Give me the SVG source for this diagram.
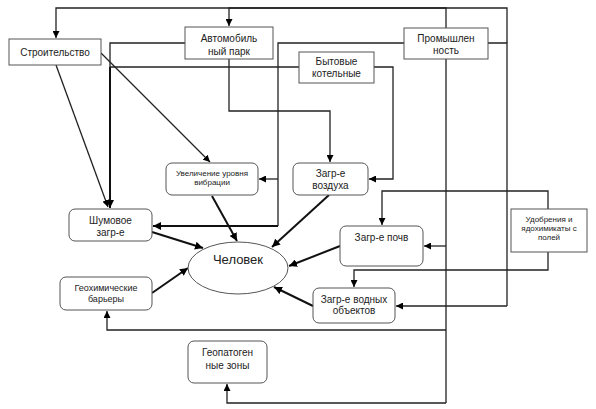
<svg xmlns="http://www.w3.org/2000/svg" width="596" height="409" viewBox="0 0 596 409">
<defs>
<marker id="ah" viewBox="0 0 10 10" refX="10" refY="5" markerWidth="7" markerHeight="7" markerUnits="userSpaceOnUse" orient="auto"><path d="M0,0L10,5L0,10z" fill="#000"/></marker>
<marker id="ahb" viewBox="0 0 10 10" refX="10" refY="5" markerWidth="8" markerHeight="8" markerUnits="userSpaceOnUse" orient="auto"><path d="M0,0L10,5L0,10z" fill="#000"/></marker>
<style>
.b{fill:#fff;stroke:#555;stroke-width:1}
.t{font-family:"Liberation Sans",Arial,sans-serif;font-size:10px;fill:#222;text-anchor:middle}
.s{font-size:8px}
.c{fill:none;stroke:#222;stroke-width:1.3}
.a{marker-end:url(#ah)}
.k{fill:none;stroke:#111;stroke-width:2;marker-end:url(#ahb)}
</style>
</defs>
<rect width="596" height="409" fill="#fff"/>
<g id="connectors">
<polyline class="c a" points="507,43 507,8 56,8 56,38"/>
<polyline class="c a" points="446,403 446,8 229,8 229,26"/>
<polyline class="c" points="488,43 507,43 507,306"/>
<line class="c a" x1="507" y1="306" x2="396" y2="306"/>
<line class="c a" x1="446" y1="246" x2="424" y2="246"/>
<polyline class="c a" points="446,330 107,330 107,311"/>
<polyline class="c a" points="446,403 227,403 227,384"/>
<polyline class="c" points="185,43 110,43 110,67"/>
<polyline class="k" points="110,67 110,208"/>
<line class="c" x1="299" y1="67" x2="110" y2="67"/>
<polyline class="c" points="404,43 278,43 278,226"/>
<line class="c a" x1="278" y1="179" x2="259" y2="179"/>
<polyline class="k" points="278,226 153,226"/>
<polyline class="c a" points="229,59 229,111 330,111 330,162"/>
<polyline class="c a" points="374,67 393,67 393,179 369,179"/>
<line class="c a" x1="56" y1="65" x2="108" y2="207"/>
<line class="c a" x1="101" y1="53" x2="210" y2="162"/>
<polyline class="c a" points="548,209 548,191 382,191 382,225"/>
<polyline class="c a" points="548,252 548,270 354,270 354,287"/>
<line class="k" x1="152" y1="232" x2="203" y2="248"/>
<line class="k" x1="212" y1="196" x2="237" y2="241"/>
<line class="k" x1="329" y1="195" x2="272" y2="247"/>
<line class="k" x1="340" y1="246" x2="289" y2="266"/>
<line class="k" x1="313" y1="306" x2="274" y2="287"/>
<line class="k" x1="152" y1="293" x2="188" y2="268"/>
</g>
<g id="stroitelstvo"><rect class="b" x="9" y="39" width="92" height="26"/><text class="t" x="55" y="56">Строительство</text></g>
<g id="avtopark"><rect class="b" x="185" y="27" width="88" height="32"/><text class="t" x="229" y="42">Автомобиль</text><text class="t" x="229" y="55">ный парк</text></g>
<g id="kotelnye"><rect class="b" x="299" y="52" width="75" height="31"/><text class="t" x="336.5" y="65">Бытовые</text><text class="t" x="336.5" y="77">котельные</text></g>
<g id="prom"><rect class="b" x="404" y="28" width="84" height="31"/><text class="t" x="446" y="42">Промышлен</text><text class="t" x="446" y="54">ность</text></g>
<g id="vibr"><rect class="b" x="166" y="163" width="92" height="32" rx="6"/><text class="t s" x="212" y="176">Увеличение уровня</text><text class="t s" x="212" y="185">вибрации</text></g>
<g id="vozduh"><rect class="b" x="293" y="163" width="75" height="32" rx="6"/><text class="t" x="330.5" y="177">Загр-е</text><text class="t" x="330.5" y="189">воздуха</text></g>
<g id="shum"><rect class="b" x="69" y="209" width="83" height="32" rx="6"/><text class="t" x="110.5" y="224">Шумовое</text><text class="t" x="110.5" y="236">загр-е</text></g>
<g id="pochv"><rect class="b" x="340" y="226" width="83" height="40" rx="6"/><text class="t" x="381.5" y="241">Загр-е почв</text></g>
<g id="udobr"><rect class="b" x="511" y="209" width="76" height="43"/><text class="t s" x="549" y="222">Удобрения и</text><text class="t s" x="549" y="231">ядохимикаты с</text><text class="t s" x="549" y="240">полей</text></g>
<g id="chelovek"><ellipse cx="238" cy="268" rx="50" ry="26" fill="#fff" stroke="#555"/><text class="t" x="238" y="264" style="font-size:13px">Человек</text></g>
<g id="vodn"><rect class="b" x="313" y="288" width="82" height="35" rx="6"/><text class="t" x="354" y="303">Загр-е водных</text><text class="t" x="354" y="314">объектов</text></g>
<g id="geohim"><rect class="b" x="60" y="277" width="92" height="33" rx="6"/><text class="t s" x="106" y="291" style="font-size:9px">Геохимические</text><text class="t s" x="106" y="302" style="font-size:9px">барьеры</text></g>
<g id="geopat"><rect class="b" x="188" y="341" width="79" height="42" rx="6"/><text class="t" x="227.5" y="356">Геопатоген</text><text class="t" x="227.5" y="369">ные зоны</text></g>
</svg>
